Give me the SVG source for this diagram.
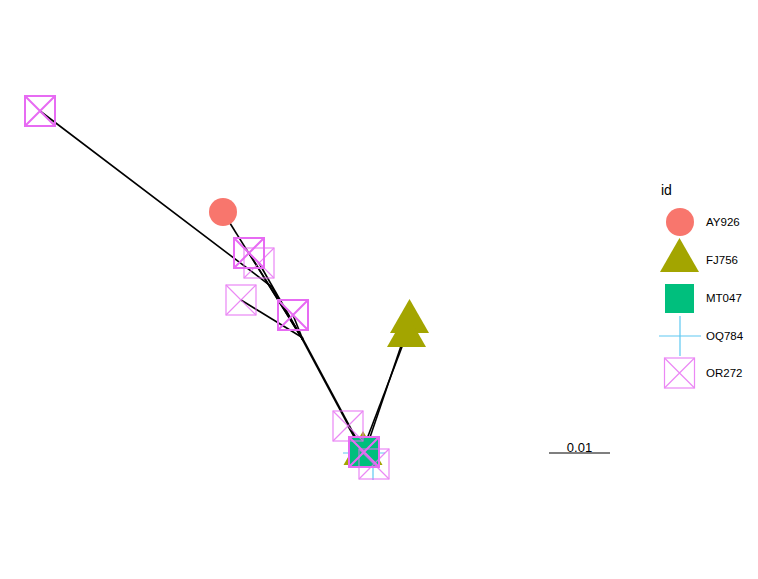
<svg xmlns="http://www.w3.org/2000/svg" width="758" height="579" viewBox="0 0 758 579">
<defs>
<style>
.edge{stroke:#000;stroke-width:1.6;fill:none;stroke-linecap:butt}
.thick{stroke-width:2.4}
.ay{fill:#F8766D}
.fj{fill:#A3A500}
.mt{fill:#00BF7D}
.oq{stroke:#5EC8F2;stroke-width:1.2;fill:none}
.or{stroke:#E76BF3;stroke-width:1.2;fill:none;opacity:0.8}
.orb{stroke:#E76BF3;stroke-width:2;fill:none}
text{font-family:"Liberation Sans",Arial,sans-serif;fill:#000}
.lab{font-size:11.5px}
</style>
<g id="sym-or"><rect x="-15" y="-15" width="30" height="30"/><path d="M-15,-15L15,15M15,-15L-15,15"/></g>
<g id="sym-oq"><path d="M-21,0H21M0,-20V20"/></g>
<path id="sym-fj" d="M0,-22L19.5,12L-19.5,12Z"/>
</defs>
<rect width="758" height="579" fill="#fff"/>
<g id="connectors">
<path class="edge" d="M40,111L272,287L303,340"/>
<path class="edge" d="M223,212L303,340"/>
<path class="edge" d="M249,253L303,340"/>
<path class="edge" d="M259,263L303,340"/>
<path class="edge" d="M241,300L303,338"/>
<path class="edge" d="M293,315L303,340"/>
<path class="edge thick" d="M302,338L363,452"/>
<path class="edge" d="M409.5,321L365,452"/>
<path class="edge" d="M406.5,335L362,452"/>
<path class="edge" d="M348,426L363,452"/>
<path class="edge" d="M374,464L363,452"/>
</g>
<g id="node-fj756-a"><use href="#sym-fj" class="fj" x="409.5" y="321"/></g>
<g id="node-fj756-b"><use href="#sym-fj" class="fj" x="406.5" y="335"/></g>
<g id="node-fj756-c"><use href="#sym-fj" class="fj" x="363" y="453"/></g>
<g id="node-ay926"><circle class="ay" cx="223" cy="212" r="14"/></g>
<g id="node-oq784" class="oq"><path d="M343,453H385M373,440V480"/></g>
<g id="node-mt047"><rect class="mt" x="349" y="437" width="30" height="30"/></g>
<g id="node-or272-1" class="orb"><use href="#sym-or" x="40" y="111"/></g>
<g id="node-or272-2" class="orb"><use href="#sym-or" x="249" y="253"/></g>
<g id="node-or272-3" class="or"><use href="#sym-or" x="259" y="263"/></g>
<g id="node-or272-4" class="or"><use href="#sym-or" x="241" y="300"/></g>
<g id="node-or272-5" class="orb"><use href="#sym-or" x="293" y="315"/></g>
<g id="node-or272-6" class="or"><use href="#sym-or" x="348" y="426"/></g>
<g id="node-or272-7" class="or"><use href="#sym-or" x="374" y="464"/></g>
<g id="node-or272-8" class="orb"><use href="#sym-or" x="364" y="452"/></g>
<g id="scale-bar">
<line x1="549" y1="453" x2="610" y2="453" stroke="#000" stroke-width="1.2"/>
<text x="579.5" y="452" font-size="13" text-anchor="middle">0.01</text>
</g>
<g id="legend">
<text x="661" y="195" font-size="14">id</text>
<circle class="ay" cx="680" cy="222" r="14"/>
<use href="#sym-fj" class="fj" x="679.5" y="260"/>
<rect class="mt" x="665" y="284" width="29" height="29"/>
<g class="oq"><use href="#sym-oq" x="680" y="336"/></g>
<g class="or"><use href="#sym-or" x="679.5" y="373"/></g>
<text class="lab" x="706" y="226">AY926</text>
<text class="lab" x="706" y="264">FJ756</text>
<text class="lab" x="706" y="302">MT047</text>
<text class="lab" x="706" y="340">OQ784</text>
<text class="lab" x="706" y="377">OR272</text>
</g>
</svg>
